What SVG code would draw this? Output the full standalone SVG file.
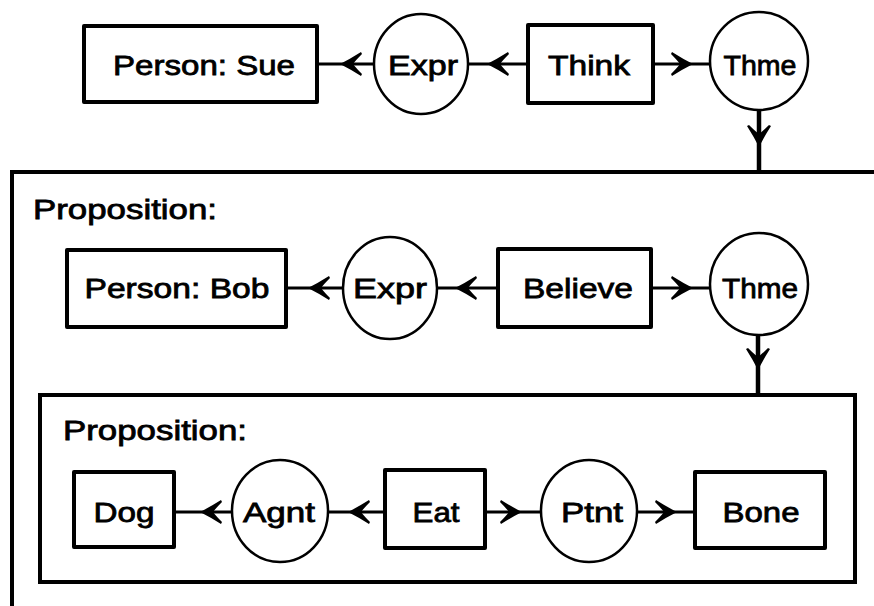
<svg xmlns="http://www.w3.org/2000/svg" width="874" height="606" viewBox="0 0 874 606">
<defs>
<style>
.box{fill:#fff;stroke:#000;stroke-width:4;stroke-linejoin:round}
.rel{fill:#fff;stroke:#000;stroke-width:2.5}
.ctx{fill:none;stroke:#000;stroke-width:4}
.lbl{font-family:"Liberation Sans",Arial,sans-serif;font-size:28px;fill:#000;stroke:#000;stroke-width:0.8;text-anchor:middle}
.ttl{font-family:"Liberation Sans",Arial,sans-serif;font-size:28px;fill:#000;stroke:#000;stroke-width:0.8}
.con{fill:none;stroke:#000;stroke-width:3;marker-mid:url(#ah)}
.conv{fill:none;stroke:#000;stroke-width:4.5;marker-mid:url(#ah)}
</style>
<marker id="ah" markerUnits="userSpaceOnUse" markerWidth="26" markerHeight="26" refX="22" refY="12" orient="auto" overflow="visible">
<path d="M22,12 Q12,7 1,0 L0,2 Q6,8 9,12 Q6,16 0,22 L1,24 Q12,17 22,12 Z" fill="#000"/>
</marker>
</defs>
<rect width="874" height="606" fill="#fff"/>
<g id="context-outer">
<rect class="ctx" x="12" y="172" width="900" height="500"/>
<text class="ttl" x="33" y="219" textLength="184" lengthAdjust="spacingAndGlyphs">Proposition:</text>
</g>
<g id="context-inner">
<rect class="ctx" x="40" y="395" width="815" height="187"/>
<text class="ttl" x="63" y="440" textLength="184" lengthAdjust="spacingAndGlyphs">Proposition:</text>
</g>
<g id="connectors">
<path class="con" d="M374,64 L340,64 L317,64"/>
<path class="con" d="M528,64 L487,64 L468,64"/>
<path class="con" d="M653,64 L693,64 L710,64"/>
<path class="conv" d="M759,110 L759,147 L759,172"/>
<path class="con" d="M343,288 L308,288 L286,288"/>
<path class="con" d="M498,288 L455,288 L437,288"/>
<path class="con" d="M651,288 L693,288 L710,288"/>
<path class="conv" d="M758,335 L758,370 L758,395"/>
<path class="con" d="M232,512 L200,512 L174,512"/>
<path class="con" d="M385,512 L348,512 L328,512"/>
<path class="con" d="M485,512 L522,512 L541,512"/>
<path class="con" d="M637,512 L677,512 L695,512"/>
</g>
<g id="person-sue"><rect class="box" x="84" y="26" width="233" height="76"/><text class="lbl" x="204" y="75" textLength="182" lengthAdjust="spacingAndGlyphs">Person: Sue</text></g>
<g id="expr-1"><ellipse class="rel" cx="421" cy="64" rx="47" ry="50"/><text class="lbl" x="423" y="75" textLength="70" lengthAdjust="spacingAndGlyphs">Expr</text></g>
<g id="think"><rect class="box" x="528" y="25" width="125" height="78"/><text class="lbl" x="589" y="75" textLength="82" lengthAdjust="spacingAndGlyphs">Think</text></g>
<g id="thme-1"><ellipse class="rel" cx="759" cy="61" rx="49" ry="49"/><text class="lbl" x="760" y="75" textLength="73" lengthAdjust="spacingAndGlyphs">Thme</text></g>
<g id="person-bob"><rect class="box" x="67" y="250" width="219" height="77"/><text class="lbl" x="177" y="298" textLength="185" lengthAdjust="spacingAndGlyphs">Person: Bob</text></g>
<g id="expr-2"><ellipse class="rel" cx="390" cy="288" rx="47" ry="51"/><text class="lbl" x="390" y="298" textLength="74" lengthAdjust="spacingAndGlyphs">Expr</text></g>
<g id="believe"><rect class="box" x="498" y="249" width="153" height="78"/><text class="lbl" x="578" y="298" textLength="110" lengthAdjust="spacingAndGlyphs">Believe</text></g>
<g id="thme-2"><ellipse class="rel" cx="759" cy="284" rx="49" ry="51"/><text class="lbl" x="760" y="298" textLength="76" lengthAdjust="spacingAndGlyphs">Thme</text></g>
<g id="dog"><rect class="box" x="74" y="472" width="100" height="75"/><text class="lbl" x="124" y="522" textLength="61" lengthAdjust="spacingAndGlyphs">Dog</text></g>
<g id="agnt"><ellipse class="rel" cx="280" cy="511" rx="48" ry="51"/><text class="lbl" x="279" y="522" textLength="72" lengthAdjust="spacingAndGlyphs">Agnt</text></g>
<g id="eat"><rect class="box" x="385" y="470" width="100" height="78"/><text class="lbl" x="436" y="522" textLength="47" lengthAdjust="spacingAndGlyphs">Eat</text></g>
<g id="ptnt"><ellipse class="rel" cx="589" cy="511" rx="48" ry="51"/><text class="lbl" x="592" y="522" textLength="62" lengthAdjust="spacingAndGlyphs">Ptnt</text></g>
<g id="bone"><rect class="box" x="695" y="472" width="130" height="76"/><text class="lbl" x="761" y="522" textLength="77" lengthAdjust="spacingAndGlyphs">Bone</text></g>
</svg>
